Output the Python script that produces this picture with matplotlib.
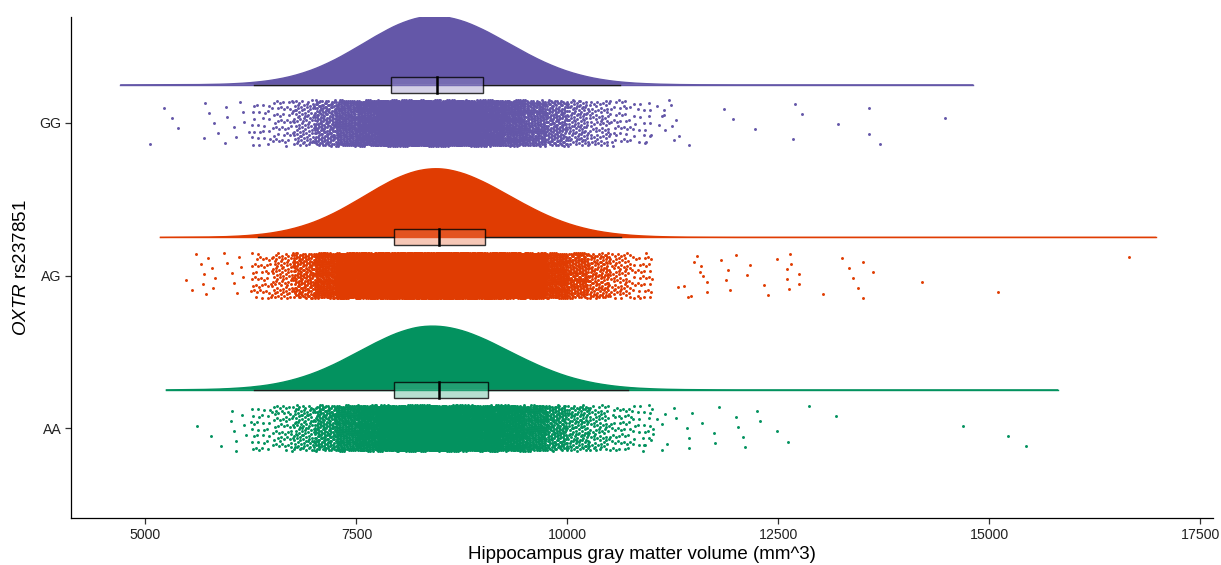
import numpy as np
import matplotlib
matplotlib.use("Agg")
import matplotlib.pyplot as plt
from matplotlib.patches import Rectangle

plt.rcParams['font.family'] = ['Liberation Sans', 'DejaVu Sans']
plt.rcParams['mathtext.fontset'] = 'custom'
plt.rcParams['mathtext.rm'] = 'Liberation Sans'
plt.rcParams['mathtext.it'] = 'Liberation Sans:italic'

# ---------------- data ----------------
groups = ['AA', 'AG', 'GG']
colors = ['#03925F', '#E03C02', '#6457A8']

# boxplot statistics
box_q1 = [7949, 7949, 7915]
box_med = [8481, 8481, 8457]
box_q3 = [9060, 9025, 9001]
box_whislo = [6285, 6335, 6290]
box_whishi = [10725, 10640, 10630]

# density support (untrimmed KDE range)
dens_lo = [5240, 5170, 4700]
dens_hi = [15820, 16980, 14815]
dens_x = list(range(5500, 12001, 250))
dens_AA = [0.003, 0.008, 0.019, 0.041, 0.081, 0.148, 0.247, 0.380, 0.538, 0.698,
           0.834, 0.916, 0.924, 0.864, 0.749, 0.601, 0.448, 0.310, 0.198, 0.118,
           0.065, 0.033, 0.016, 0.007, 0.003, 0.001, 0.000]
dens_AG = [0.002, 0.005, 0.013, 0.031, 0.066, 0.128, 0.225, 0.362, 0.532, 0.714,
           0.873, 0.975, 0.998, 0.937, 0.812, 0.650, 0.480, 0.327, 0.205, 0.119,
           0.064, 0.032, 0.015, 0.006, 0.002, 0.001, 0.000]
dens_GG = [0.002, 0.006, 0.014, 0.033, 0.069, 0.132, 0.231, 0.370, 0.541, 0.722,
           0.880, 0.979, 0.996, 0.932, 0.805, 0.641, 0.471, 0.319, 0.199, 0.115,
           0.061, 0.030, 0.014, 0.006, 0.002, 0.001, 0.000]
dens_vals = [dens_AA, dens_AG, dens_GG]

# raw points: core counts per 250-wide bin starting at 6250, plus sparse tail values
bin_start = 6250
bin_w = 250
counts_AA = [30, 55, 100, 180, 290, 400, 500, 560, 590, 580, 530, 460, 370, 275, 185, 120, 75, 45, 25]
counts_AG = [45, 85, 170, 320, 520, 760, 950, 1080, 1130, 1110, 1020, 870, 680, 490, 330, 210, 130, 75, 40]
counts_GG = [25, 45, 90, 170, 280, 400, 500, 560, 600, 590, 540, 430, 330, 240, 170, 110, 70, 40, 20]
counts = [counts_AA, counts_AG, counts_GG]

tail_AA = [5611, 5778, 5894, 6026, 6018, 6047, 6067, 6067, 6143, 6163, 6193,
           10911, 11000, 11060, 11014, 10990, 11117, 11154, 11122, 11014, 11177, 11261,
           11294, 11424, 11443, 11448, 11480, 11597, 11742, 11747, 11798, 11994, 12018,
           12087, 12110, 12251, 12284, 12483, 12619, 12862, 13180, 14687, 15219, 15437]
tail_AG = [5479, 5550, 5603, 5662, 5695, 5687, 5715, 5736, 5786, 5819, 5806, 5931,
           5963, 6026, 6046, 6089, 6110, 6130, 6151,
           11317, 11434, 11504, 11573, 11658, 11654, 11537, 11583, 11611, 11388, 11467,
           11817, 11901, 11877, 11924, 12004, 12162, 12134, 12330, 12385, 12488, 12605,
           12610, 12624, 12634, 12647, 12750, 12750, 13034, 13254, 13338, 13384, 13441,
           13511, 13501, 13627, 14206, 15106, 16661]
tail_GG = [5050, 5219, 5317, 5384, 5691, 5711, 5750, 5809, 5861, 5948, 5960, 5972,
           6046, 6073, 6125, 6154, 6166, 6232,
           10935, 11060, 11122, 11247, 11326, 11200, 11141, 11283, 11164, 11259, 11228,
           11144, 11084, 10995, 11448, 11853, 11961, 12227, 12670, 12694, 12787, 13207,
           13571, 13702, 13580, 14476]
tails = [tail_AA, tail_AG, tail_GG]

xticks = [5000, 7500, 10000, 12500, 15000, 17500]
xlabel = 'Hippocampus gray matter volume (mm^3)'
ylabel = r'$\it{OXTR}$ rs237851'


def catmull_rom(x, y, n=12):
    """Smooth curve through the read density points (drawing only)."""
    x = np.asarray(x, float)
    y = np.asarray(y, float)
    px = np.concatenate([[x[0]], x, [x[-1]]])
    py = np.concatenate([[y[0]], y, [y[-1]]])
    outx, outy = [], []
    t = np.linspace(0, 1, n, endpoint=False)
    for i in range(1, len(px) - 2):
        for P, out in ((px, outx), (py, outy)):
            p0, p1, p2, p3 = P[i - 1], P[i], P[i + 1], P[i + 2]
            out.append(0.5 * (2 * p1 + (-p0 + p2) * t + (2 * p0 - 5 * p1 + 4 * p2 - p3) * t ** 2
                              + (-p0 + 3 * p1 - 3 * p2 + p3) * t ** 3))
    outx.append([x[-1]])
    outy.append([y[-1]])
    return np.concatenate(outx), np.clip(np.concatenate(outy), 0, None)


# ---------------- drawing ----------------
fig = plt.figure(figsize=(12.21, 5.65), dpi=100)
ax = fig.add_axes([71/1221, 1-518/565, (1213-71)/1221, (518-17)/565])

A1, A2 = 0.7548776662466927, 0.5698402909980532  # deterministic jitter sequence
jit_idx = 1
violin_offset = 0.25
violin_scale = 0.45
jitter_half = 0.15
box_half = 0.052

for gi, g in enumerate(groups):
    pos = gi + 1
    col = colors[gi]
    base = pos + violin_offset
    # half violin
    sx, sy = catmull_rom(dens_x, dens_vals[gi])
    vx = np.concatenate([[dens_lo[gi]], sx, [dens_hi[gi]]])
    vy = np.concatenate([[0.0], sy, [0.0]]) * violin_scale
    ax.fill_between(vx, base, base + vy, facecolor=col, edgecolor='none', zorder=1)
    ax.plot(vx, base + vy, color=col, lw=1.0, zorder=1.1, solid_capstyle='butt')
    ax.plot([dens_lo[gi], dens_hi[gi]], [base, base], color=col, lw=1.0, zorder=1.1)

    # points
    xs, ys = [], []
    for bi, c in enumerate(counts[gi]):
        k = np.arange(jit_idx, jit_idx + c)
        jit_idx += c
        u = (0.5 + A1 * k) % 1.0
        v = (0.5 + A2 * k) % 1.0
        xs.append(bin_start + bi * bin_w + u * bin_w)
        ys.append(pos + (v - 0.5) * 2 * jitter_half)
    t = np.array(tails[gi], dtype=float)
    k = np.arange(jit_idx, jit_idx + len(t))
    jit_idx += len(t)
    xs.append(t)
    ys.append(pos + (((0.5 + A2 * k * 1.37) % 1.0) - 0.5) * 2 * jitter_half)
    ax.scatter(np.concatenate(xs), np.concatenate(ys), s=4.5, color=col,
               linewidths=0, zorder=2)

    # boxplot
    ax.plot([box_whislo[gi], box_q1[gi]], [base, base], color='#1a1a1a', lw=1.0, zorder=3)
    ax.plot([box_q3[gi], box_whishi[gi]], [base, base], color='#1a1a1a', lw=1.0, zorder=3)
    ax.add_patch(Rectangle((box_q1[gi], base - box_half), box_q3[gi] - box_q1[gi], 2 * box_half,
                           facecolor=col, alpha=0.32, edgecolor='none', zorder=3))
    ax.add_patch(Rectangle((box_q1[gi], base - box_half), box_q3[gi] - box_q1[gi], 2 * box_half,
                           facecolor='white', alpha=0.12, edgecolor='none', zorder=3.1))
    ax.add_patch(Rectangle((box_q1[gi], base - box_half), box_q3[gi] - box_q1[gi], 2 * box_half,
                           facecolor='none', edgecolor=(0, 0, 0, 0.8), lw=1.0, zorder=3.2))
    ax.plot([box_med[gi], box_med[gi]], [base - box_half, base + box_half], color='black',
            lw=1.8, zorder=3.3)

ax.set_xlim(4117, 17654)
ax.set_ylim(0.41, 3.695)
ax.set_xticks(xticks)
ax.set_xticklabels([str(v) for v in xticks])
ax.set_yticks([1, 2, 3])
ax.set_yticklabels(groups)

for s in ['top', 'right']:
    ax.spines[s].set_visible(False)
for s in ['left', 'bottom']:
    ax.spines[s].set_linewidth(0.9)
    ax.spines[s].set_color('black')
ax.tick_params(axis='both', direction='out', length=4, width=0.9, color='#333333',
               labelsize=10.2, labelcolor='#222222', pad=3)
ax.set_xlabel(xlabel, fontsize=13.5, color='black', labelpad=3)
ax.set_ylabel(ylabel, fontsize=13.5, color='black', labelpad=7)

fig.savefig('out.png', dpi=100)
